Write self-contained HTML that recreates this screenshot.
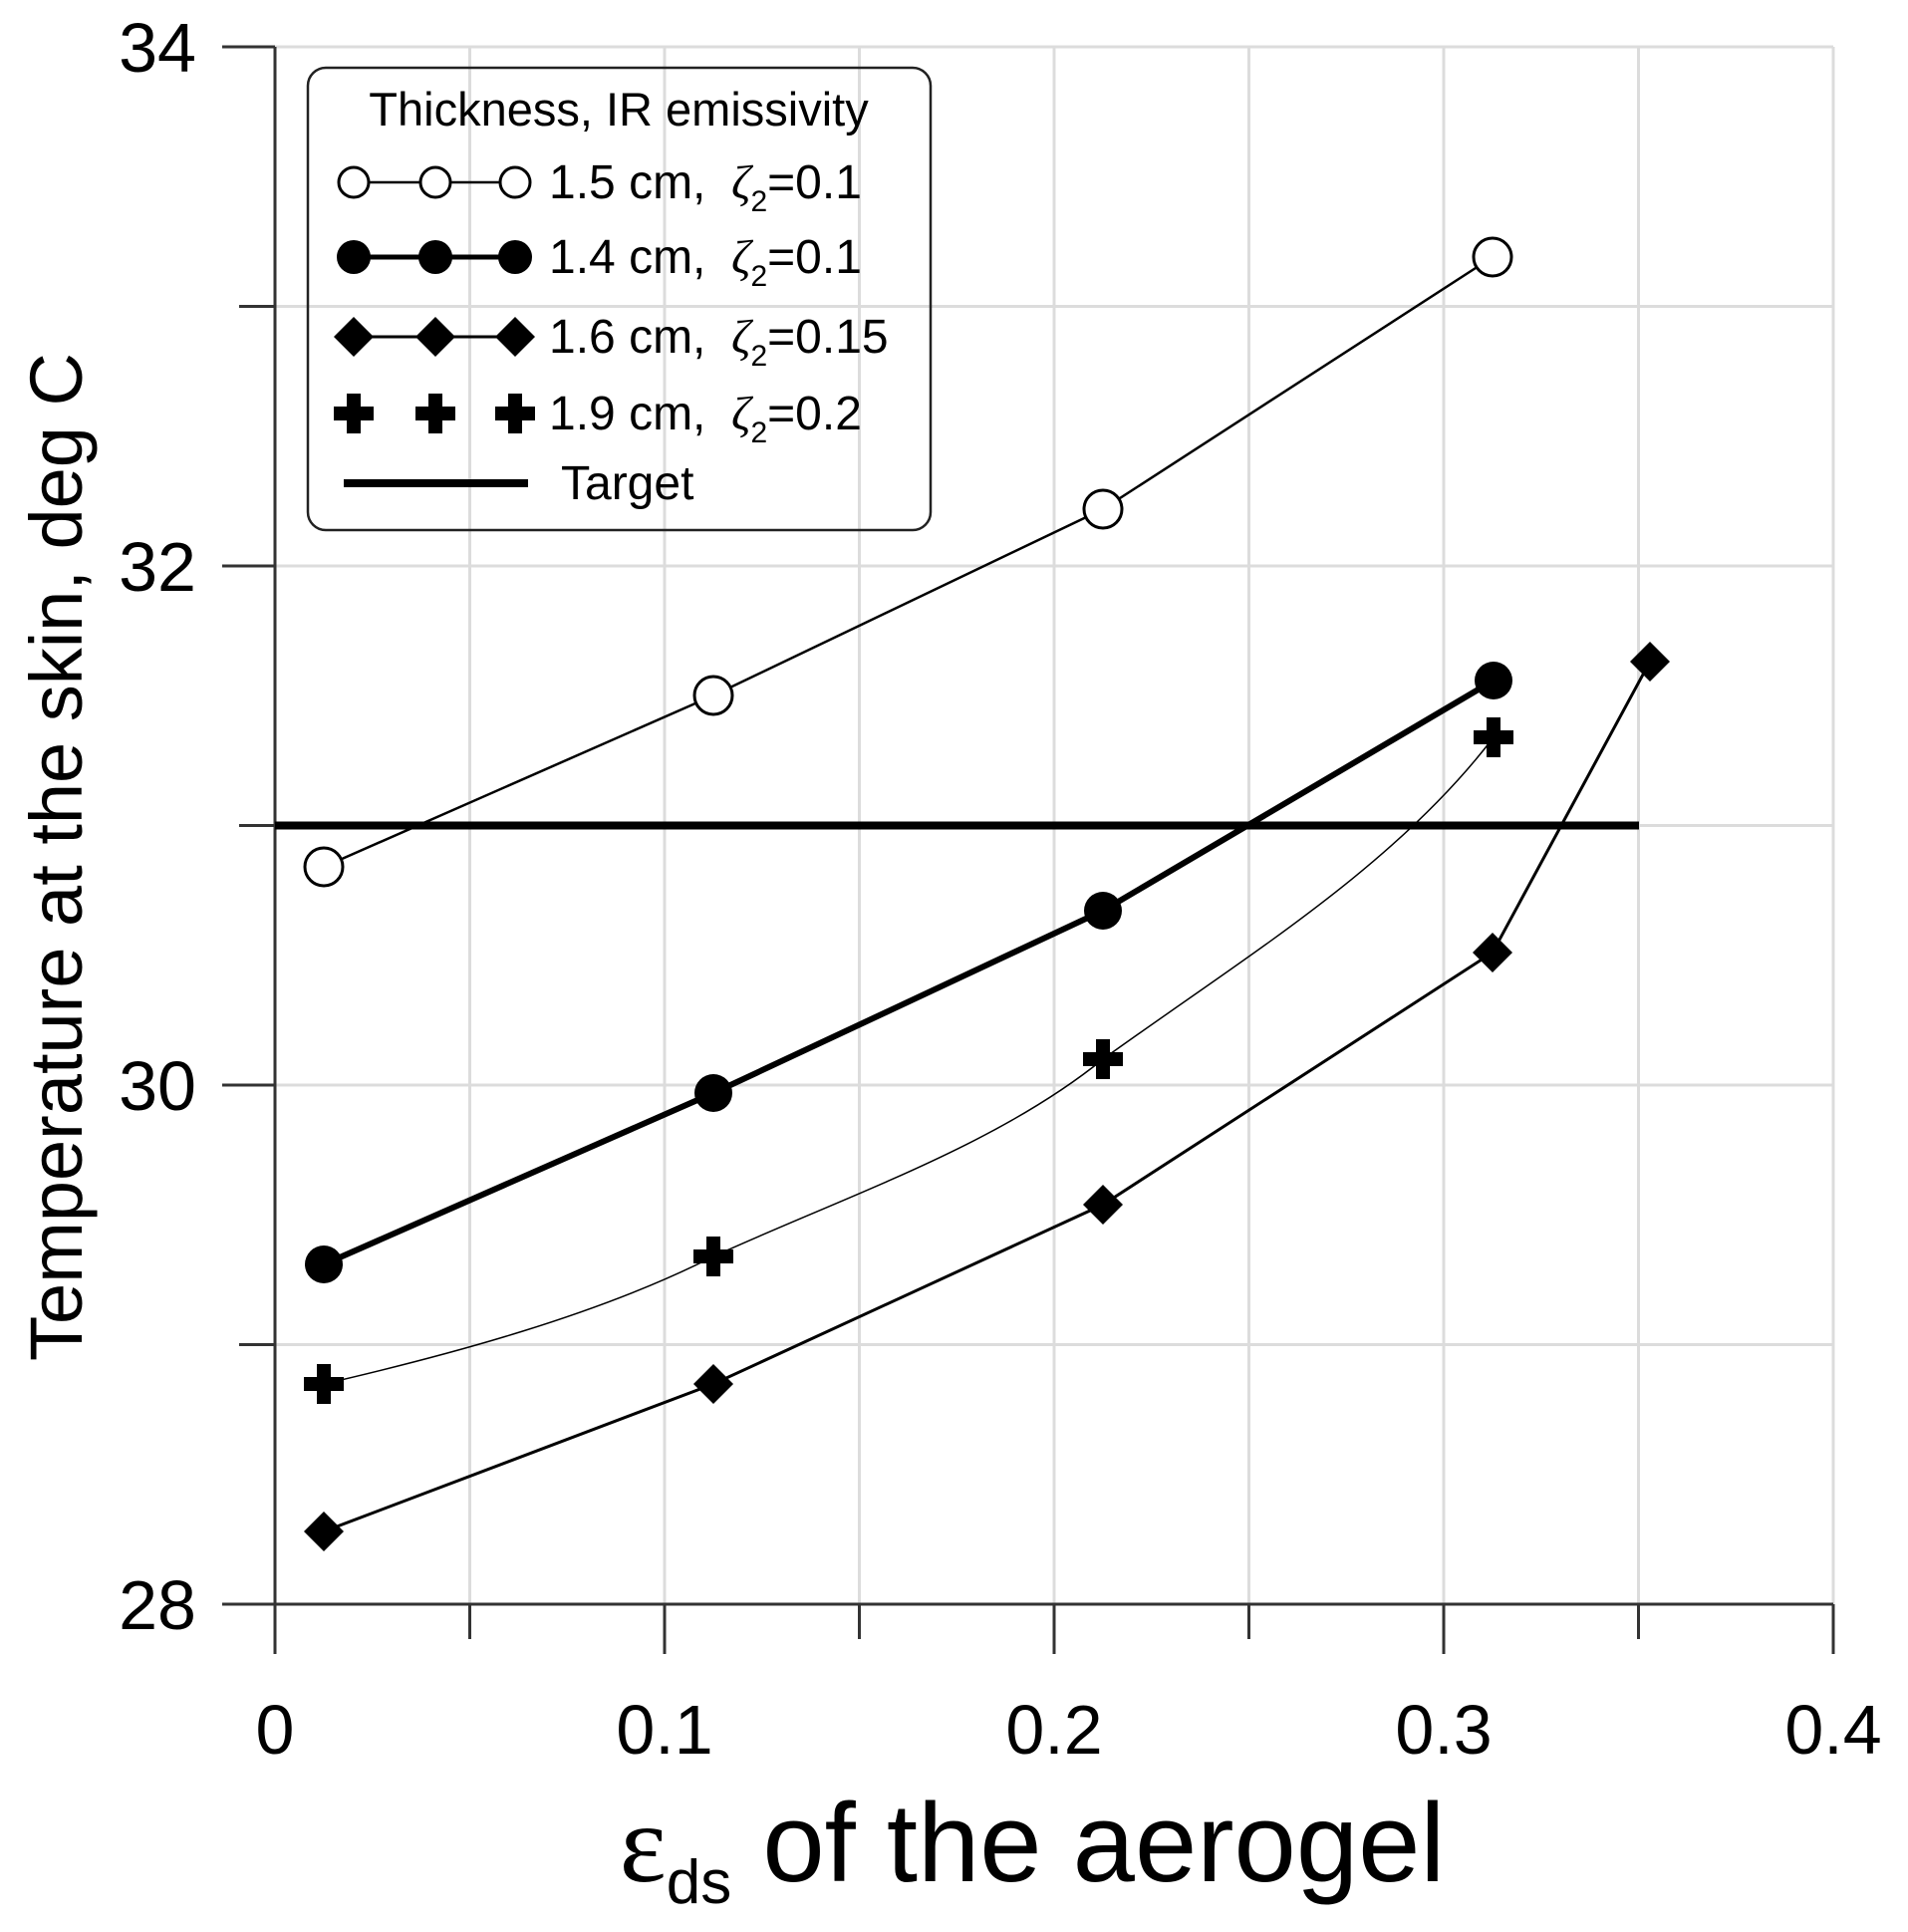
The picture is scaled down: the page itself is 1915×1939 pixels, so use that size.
<!DOCTYPE html>
<html><head><meta charset="utf-8"><style>html,body{margin:0;padding:0;background:#fff}svg{display:block}</style></head>
<body>
<svg width="1915" height="1939" viewBox="0 0 1915 1939" xmlns="http://www.w3.org/2000/svg" font-family="Liberation Sans, Arial, sans-serif">
<defs>
<path id="pl" d="M-7,-20 H7 V-7 H20 V7 H7 V20 H-7 V7 H-20 V-7 H-7 Z" fill="#000"/>
<path id="dm" d="M0,-20 L20,0 L0,20 L-20,0 Z" fill="#000"/>
</defs>
<g stroke="#dcdcdc" stroke-width="3">
<line x1="471.5" y1="47" x2="471.5" y2="1610"/><line x1="667" y1="47" x2="667" y2="1610"/>
<line x1="862.5" y1="47" x2="862.5" y2="1610"/><line x1="1058" y1="47" x2="1058" y2="1610"/>
<line x1="1253.5" y1="47" x2="1253.5" y2="1610"/><line x1="1449" y1="47" x2="1449" y2="1610"/>
<line x1="1644.5" y1="47" x2="1644.5" y2="1610"/><line x1="1840" y1="47" x2="1840" y2="1610"/>
<line x1="276" y1="47" x2="1840" y2="47"/><line x1="276" y1="307.5" x2="1840" y2="307.5"/>
<line x1="276" y1="568" x2="1840" y2="568"/><line x1="276" y1="828.5" x2="1840" y2="828.5"/>
<line x1="276" y1="1089" x2="1840" y2="1089"/><line x1="276" y1="1349.5" x2="1840" y2="1349.5"/>
</g>
<g stroke="#333" stroke-width="3">
<line x1="276" y1="47" x2="276" y2="1660"/>
<line x1="223" y1="1610" x2="1840" y2="1610"/>
<line x1="223" y1="47" x2="276" y2="47"/><line x1="223" y1="568" x2="276" y2="568"/><line x1="223" y1="1089" x2="276" y2="1089"/>
<line x1="240" y1="307.5" x2="276" y2="307.5"/><line x1="240" y1="828.5" x2="276" y2="828.5"/><line x1="240" y1="1349.5" x2="276" y2="1349.5"/>
<line x1="667" y1="1610" x2="667" y2="1660"/><line x1="1058" y1="1610" x2="1058" y2="1660"/><line x1="1449" y1="1610" x2="1449" y2="1660"/><line x1="1840" y1="1610" x2="1840" y2="1660"/>
<line x1="471.5" y1="1610" x2="471.5" y2="1645"/><line x1="862.5" y1="1610" x2="862.5" y2="1645"/><line x1="1253.5" y1="1610" x2="1253.5" y2="1645"/><line x1="1644.5" y1="1610" x2="1644.5" y2="1645"/>
</g>
<g font-size="70" fill="#000" text-anchor="end">
<text x="197" y="72">34</text><text x="197" y="593">32</text><text x="197" y="1114">30</text><text x="197" y="1635">28</text>
</g>
<g font-size="70" fill="#000" text-anchor="middle">
<text x="276" y="1760">0</text><text x="667" y="1760">0.1</text><text x="1058" y="1760">0.2</text><text x="1449" y="1760">0.3</text><text x="1840" y="1760">0.4</text>
</g>
<text transform="translate(82,860) rotate(-90)" font-size="74" text-anchor="middle">Temperature at the skin, deg C</text>
<text x="1036" y="1888" font-size="112" text-anchor="middle"><tspan font-family="Liberation Serif, serif">ε</tspan><tspan font-size="62" dy="22">ds</tspan><tspan dy="-22"> of the aerogel</tspan></text>
<line x1="276" y1="828.5" x2="1645" y2="828.5" stroke="#000" stroke-width="8"/>
<polyline points="325,870 716,698 1107,511 1498,258" fill="none" stroke="#000" stroke-width="2.5"/>
<g fill="#fff" stroke="#000" stroke-width="3">
<circle cx="325" cy="870" r="19"/><circle cx="716" cy="698" r="19"/><circle cx="1107" cy="511" r="19"/><circle cx="1498" cy="258" r="19"/>
</g>
<polyline points="325,1269 716,1097 1107,914 1499,683" fill="none" stroke="#000" stroke-width="6"/>
<g fill="#000"><circle cx="325" cy="1269" r="19"/><circle cx="716" cy="1097" r="19"/><circle cx="1107" cy="914" r="19"/><circle cx="1499" cy="683" r="19"/></g>
<path d="M325,1389 C450,1360 600,1320 716,1261 C850,1200 1000,1150 1107,1063 C1250,960 1400,870 1499,740" fill="none" stroke="#000" stroke-width="1.5"/>
<use href="#pl" x="325" y="1389"/><use href="#pl" x="716" y="1261"/><use href="#pl" x="1107" y="1063"/><use href="#pl" x="1499" y="740"/>
<polyline points="325,1537 716,1389 1107,1209 1498,956 1656,664" fill="none" stroke="#000" stroke-width="3"/>
<use href="#dm" x="325" y="1537"/><use href="#dm" x="716" y="1389"/><use href="#dm" x="1107" y="1209"/><use href="#dm" x="1498" y="956"/><use href="#dm" x="1656" y="664"/>
<rect x="309" y="68" width="625" height="464" rx="18" fill="none" stroke="#222" stroke-width="2.5"/>
<text x="621" y="126" font-size="47" text-anchor="middle">Thickness, IR emissivity</text>
<line x1="355" y1="183" x2="517" y2="183" stroke="#000" stroke-width="2.5"/>
<g fill="#fff" stroke="#000" stroke-width="3"><circle cx="355" cy="183" r="15"/><circle cx="437" cy="183" r="15"/><circle cx="517" cy="183" r="15"/></g>
<line x1="355" y1="258" x2="517" y2="258" stroke="#000" stroke-width="5"/>
<g fill="#000"><circle cx="355" cy="258" r="17"/><circle cx="437" cy="258" r="17"/><circle cx="517" cy="258" r="17"/></g>
<line x1="355" y1="338" x2="517" y2="338" stroke="#000" stroke-width="3"/>
<use href="#dm" x="355" y="338"/><use href="#dm" x="437" y="338"/><use href="#dm" x="517" y="338"/>
<use href="#pl" x="355" y="415"/><use href="#pl" x="437" y="415"/><use href="#pl" x="517" y="415"/>
<line x1="345" y1="485" x2="530" y2="485" stroke="#000" stroke-width="8"/>
<g font-size="48">
<text x="551" y="199">1.5 cm,<tspan x="734" font-family="Liberation Serif, serif" font-style="italic">ζ</tspan><tspan font-size="30" dy="13">2</tspan><tspan dy="-13">=0.1</tspan></text>
<text x="551" y="274">1.4 cm,<tspan x="734" font-family="Liberation Serif, serif" font-style="italic">ζ</tspan><tspan font-size="30" dy="13">2</tspan><tspan dy="-13">=0.1</tspan></text>
<text x="551" y="354">1.6 cm,<tspan x="734" font-family="Liberation Serif, serif" font-style="italic">ζ</tspan><tspan font-size="30" dy="13">2</tspan><tspan dy="-13">=0.15</tspan></text>
<text x="551" y="431">1.9 cm,<tspan x="734" font-family="Liberation Serif, serif" font-style="italic">ζ</tspan><tspan font-size="30" dy="13">2</tspan><tspan dy="-13">=0.2</tspan></text>
<text x="563" y="501">Target</text>
</g>
</svg>
</body></html>
